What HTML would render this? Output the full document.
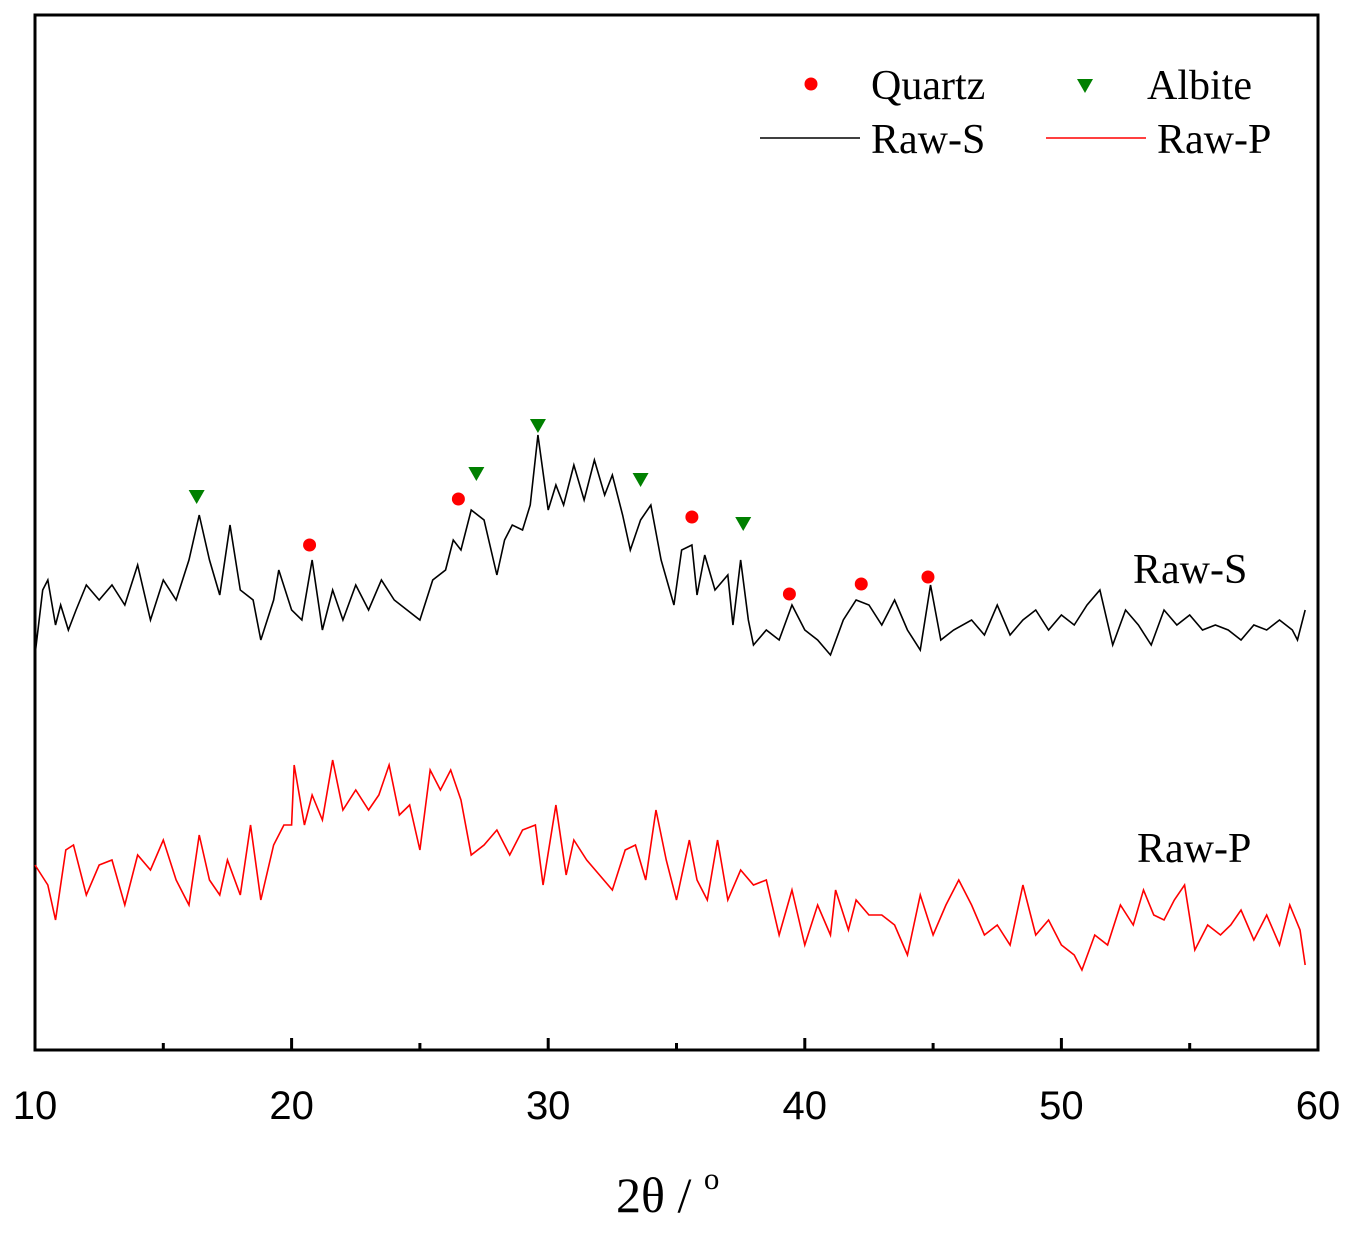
<!DOCTYPE html>
<html><head><meta charset="utf-8"><style>
body{margin:0;background:#fff}
svg text{font-family:"Liberation Serif",serif}
</style></head><body>
<svg id="chart" width="1353" height="1228" xmlns="http://www.w3.org/2000/svg">
<rect x="35" y="15" width="1283" height="1035" fill="none" stroke="#000" stroke-width="3"/>
<g id="ticks"></g>
<g id="lines"></g>
<g id="marks"></g>
<text x="616" y="1212" font-size="50">2θ / <tspan font-size="31" dy="-23">o</tspan></text>
<g>
<circle cx="811" cy="84" r="6.5" fill="#f00"/>
<text x="871" y="99" font-size="42">Quartz</text>
<polygon points="1077,79 1093,79 1085,93" fill="#008000"/>
<text x="1147" y="99" font-size="42">Albite</text>
<line x1="760" y1="138" x2="860" y2="138" stroke="#000" stroke-width="1.5"/>
<text x="871" y="153" font-size="42">Raw-S</text>
<line x1="1046" y1="138" x2="1146" y2="138" stroke="#f00" stroke-width="1.5"/>
<text x="1157" y="153" font-size="42">Raw-P</text>
</g>
<text x="1133" y="583" font-size="42">Raw-S</text>
<text x="1137" y="862" font-size="42">Raw-P</text>
</svg>
<script>
const xTicks=[10,20,30,40,50,60];
const xMinor=[15,25,35,45,55];
const sX=[10,10.3,10.5,10.8,11,11.3,11.6,12,12.5,13,13.5,14,14.5,15,15.5,16,16.4,16.8,17.2,17.6,18,18.5,18.8,19.3,19.5,20,20.4,20.8,21.2,21.6,22,22.5,23,23.5,24,24.5,25,25.5,26,26.3,26.6,27,27.5,28,28.3,28.6,29,29.3,29.6,30,30.3,30.6,31,31.4,31.8,32.2,32.5,32.9,33.2,33.6,34,34.4,34.9,35.2,35.6,35.8,36.1,36.5,37,37.2,37.5,37.8,38,38.5,39,39.5,40,40.5,41,41.5,42,42.5,43,43.5,44,44.5,44.9,45.3,45.8,46.5,47,47.5,48,48.5,49,49.5,50,50.5,51,51.5,52,52.5,53,53.5,54,54.5,55,55.5,56,56.5,57,57.5,58,58.5,59,59.2,59.5];
const sY=[395,460,470,425,445,420,440,465,450,465,445,485,430,470,450,490,535,490,455,525,460,450,410,450,480,440,430,490,420,460,430,465,440,470,450,440,430,470,480,510,500,540,530,475,510,525,520,545,615,540,565,545,585,550,590,555,575,535,500,530,545,490,445,500,505,455,495,460,475,425,490,430,405,420,410,445,420,410,395,430,450,445,425,450,420,400,465,410,420,430,415,445,415,430,440,420,435,425,445,460,405,440,425,405,440,425,435,420,425,420,410,425,420,430,420,410,440];
const pX=[10,10.5,10.8,11.2,11.5,12,12.5,13,13.5,14,14.5,15,15.5,16,16.4,16.8,17.2,17.5,18,18.4,18.8,19.3,19.7,20,20.1,20.5,20.8,21.2,21.6,22,22.5,23,23.4,23.8,24.2,24.6,25,25.4,25.8,26.2,26.6,27,27.5,28,28.5,29,29.5,29.8,30.3,30.7,31,31.5,32,32.5,33,33.4,33.8,34.2,34.6,35,35.5,35.8,36.2,36.6,37,37.5,38,38.5,39,39.5,40,40.5,41,41.2,41.7,42,42.5,43,43.5,44,44.5,45,45.5,46,46.5,47,47.5,48,48.5,49,49.5,50,50.5,50.8,51.3,51.8,52.3,52.8,53.2,53.6,54,54.4,54.8,55.2,55.7,56.2,56.6,57,57.5,58,58.5,58.9,59.3,59.5];
const pY=[185,165,130,200,205,155,185,190,145,195,180,210,170,145,215,170,155,190,155,225,150,205,225,225,285,225,255,230,290,240,260,240,255,285,235,245,200,280,260,280,250,195,205,220,195,220,225,165,245,175,210,190,175,160,200,205,170,240,190,150,210,170,150,210,150,180,165,170,115,160,105,145,115,160,120,150,135,135,125,95,155,115,145,170,145,115,125,105,165,115,130,105,95,80,115,105,145,125,160,135,130,150,165,100,125,115,125,140,110,135,105,145,120,85];
const quartzX=[20.7,26.5,35.6,39.4,42.2,44.8];
const quartzY=[505,551,533,456,466,473];
const albiteX=[16.3,27.2,29.6,33.6,37.6];
const albiteY=[553,576,624,570,526];
const NS='http://www.w3.org/2000/svg';
const xs=v=>35+(v-10)*(1283/50);
const ys=v=>1050-v*(1035/1035);
function mk(t,a,p){const e=document.createElementNS(NS,t);for(const k in a)e.setAttribute(k,a[k]);p.appendChild(e);return e;}
const T=document.getElementById('ticks');
xTicks.forEach(v=>{const l=mk('line',{x1:xs(v),x2:xs(v),y1:1050,y2:1038,stroke:'#000','stroke-width':3},T);


const t=mk('text',{x:xs(v),y:1119,'font-size':40,'text-anchor':'middle',style:'font-family:"Liberation Sans",sans-serif'},T);t.textContent=v;

});
xMinor.forEach(v=>{const l=mk('line',{x1:xs(v),x2:xs(v),y1:1050,y2:1043,stroke:'#000','stroke-width':3},T);

});
const L=document.getElementById('lines');
function line(X,Y,c,n){const p=mk('polyline',{points:X.map((x,i)=>xs(x)+','+ys(Y[i])).join(' '),fill:'none',stroke:c,'stroke-width':1.6},L);

}
line(sX,sY,'#000','raw-s-line');
line(pX,pY,'#f00','raw-p-line');
const M=document.getElementById('marks');
quartzX.forEach((x,i)=>{const c=mk('circle',{cx:xs(x),cy:ys(quartzY[i]),r:6.5,fill:'#f00'},M);

});
albiteX.forEach((x,i)=>{const X=xs(x),Y=ys(albiteY[i]);const p=mk('polygon',{points:(X-8)+','+(Y-7)+' '+(X+8)+','+(Y-7)+' '+X+','+(Y+7),fill:'#008000'},M);

});
</script>
</body></html>
